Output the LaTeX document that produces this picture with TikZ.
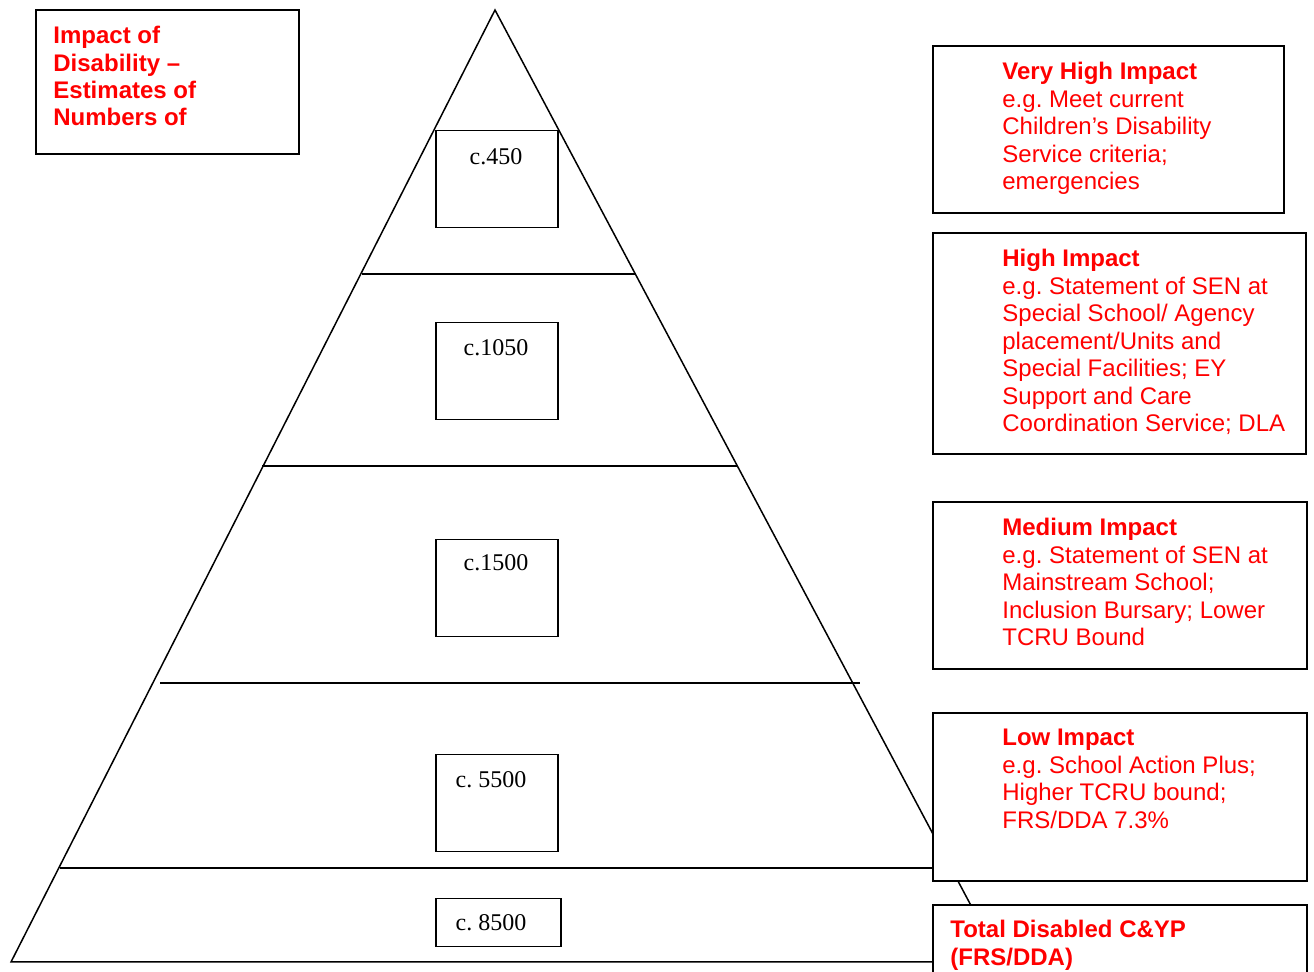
\documentclass[tikz,border=0pt]{standalone}
\usepackage{fontspec}
\setmainfont{Liberation Serif}
\newfontfamily\arialf{Liberation Sans}
\definecolor{txtred}{RGB}{255,0,0}
\frenchspacing
\begin{document}
\begin{tikzpicture}[x=0.5pt,y=-0.5pt,
  pyr/.style={line width=0.75pt,black},
  numbox/.style={draw,line width=0.75pt,inner sep=0pt,anchor=north west},
  numtxt/.style={font=\fontsize{12}{14}\selectfont,inner sep=0pt,anchor=center},
  infobox/.style={draw,line width=0.8pt,fill=white},
  infotxt/.style={font=\arialf\fontsize{12}{13.75}\selectfont,text=txtred,align=left,inner sep=0pt,anchor=north west}]
\useasboundingbox (0,0) rectangle (1314,972);
% pyramid
\coordinate (apex) at (495,10);
\coordinate (bl) at (11,962);
\coordinate (br) at (1001,962);
\draw[pyr] (bl) -- (apex) -- (br) -- cycle;
\coordinate (l1a) at (362,274); \coordinate (l1b) at (635,274);
\coordinate (l2a) at (262,466); \coordinate (l2b) at (737,466);
\coordinate (l3a) at (160,683); \coordinate (l3b) at (860,683);
\coordinate (l4a) at (60,868);  \coordinate (l4b) at (958,868);
\draw[pyr] (l1a) -- (l1b);
\draw[pyr] (l2a) -- (l2b);
\draw[pyr] (l3a) -- (l3b);
\draw[pyr] (l4a) -- (l4b);
% number boxes
\node[numbox,minimum width=61pt,minimum height=48.5pt] (n1) at (435,130) {};
\node[numtxt] (t1) at (496,157) {c.450};
\node[numbox,minimum width=61pt,minimum height=48.5pt] (n2) at (435,322) {};
\node[numtxt] (t2) at (496,348) {c.1050};
\node[numbox,minimum width=61pt,minimum height=48.5pt] (n3) at (435,539) {};
\node[numtxt] (t3) at (496,563) {c.1500};
\node[numbox,minimum width=61pt,minimum height=48.5pt] (n4) at (435,754) {};
\node[numtxt] (t4) at (491,780) {c. 5500};
\node[numbox,minimum width=62.5pt,minimum height=24pt] (n5) at (435,898) {};
\node[numtxt] (t5) at (491,923) {c. 8500};
% title box
\draw[infobox] (36,10) rectangle (299,154);
\node[infotxt,font=\arialf\bfseries\fontsize{12}{13.65}\selectfont] (title) at (53,26)
  {Impact of\\Disability –\\Estimates of\\Numbers of};
% right boxes
\draw[infobox] (933,46) rectangle (1284,213);
\node[infotxt] (vh) at (1002,62) {\textbf{Very High Impact}\\e.g. Meet current\\Children’s Disability\\Service criteria;\\emergencies};
\draw[infobox] (933,233) rectangle (1306,454);
\node[infotxt] (hi) at (1002,249) {\textbf{High Impact}\\e.g. Statement of SEN at\\Special School/ Agency\\placement/Units and\\Special Facilities; EY\\Support and Care\\Coordination Service; DLA};
\draw[infobox] (933,502) rectangle (1307,669);
\node[infotxt] (me) at (1002,518) {\textbf{Medium Impact}\\e.g. Statement of SEN at\\Mainstream School;\\Inclusion Bursary; Lower\\TCRU Bound};
\draw[infobox] (933,713) rectangle (1307,881);
\node[infotxt] (lo) at (1002,729) {\textbf{Low Impact}\\e.g. School Action Plus;\\Higher TCRU bound;\\FRS/DDA 7.3\%};
\draw[infobox] (933,905) rectangle (1307,1000);
\node[infotxt,font=\arialf\bfseries\fontsize{12}{13.75}\selectfont] (tot) at (950,920) {Total Disabled C\&YP\\(FRS/DDA)};
\end{tikzpicture}
\end{document}
